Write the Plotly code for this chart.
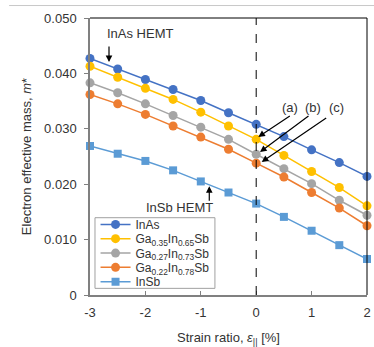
import plotly.graph_objects as go

strain = [-3, -2.5, -2, -1.5, -1, -0.5, 0, 0.5, 1, 1.5, 2]
inas = [0.0427, 0.0408, 0.0389, 0.0371, 0.0351, 0.0329, 0.0308, 0.0286, 0.0262, 0.0239, 0.0214]
ga035 = [0.0413, 0.0393, 0.0373, 0.0353, 0.0330, 0.0305, 0.0281, 0.0252, 0.0223, 0.0194, 0.0161]
ga027 = [0.0383, 0.0365, 0.0345, 0.0324, 0.0303, 0.0281, 0.0254, 0.0228, 0.0201, 0.0171, 0.0144]
ga022 = [0.0362, 0.0345, 0.0326, 0.0305, 0.0285, 0.0263, 0.0238, 0.0213, 0.0185, 0.0157, 0.0125]
insb = [0.0269, 0.0255, 0.0242, 0.0225, 0.0205, 0.0185, 0.0165, 0.0141, 0.0116, 0.0090, 0.0065]

names = ["InAs", "Ga<sub>0.35</sub>In<sub>0.65</sub>Sb", "Ga<sub>0.27</sub>In<sub>0.73</sub>Sb",
         "Ga<sub>0.22</sub>In<sub>0.78</sub>Sb", "InSb"]
colors = ["#4472C4", "#FFC000", "#A5A5A5", "#ED7D31", "#5B9BD5"]
symbols = ["circle", "circle", "circle", "circle", "square"]
series = [inas, ga035, ga027, ga022, insb]

x_ticks = [-3, -2, -1, 0, 1, 2]
x_ticktext = ["-3", "-2", "-1", "0", "1", "2"]
y_ticks = [0, 0.01, 0.02, 0.03, 0.04, 0.05]
y_ticktext = ["0", "0.010", "0.020", "0.030", "0.040", "0.050"]

FONT = "Liberation Sans, Arial, sans-serif"
TXT = "#333333"
FS = 13

fig = go.Figure()
legend_ids = ["legend", "legend2", "legend3", "legend4", "legend5"]
for nm, vals, col, sym, lg in zip(names, series, colors, symbols, legend_ids):
    fig.add_trace(go.Scatter(
        x=strain, y=vals, name=nm, mode="lines+markers",
        line=dict(color=col, width=1.5),
        marker=dict(color=col, size=9 if sym == "circle" else 8, symbol=sym),
        cliponaxis=False, legend=lg))

# legend item centres (paper y)
leg_y = [0.2548, 0.2033, 0.1514, 0.0998, 0.0479]
leg_common = dict(x=0.02, xanchor="left", yanchor="middle", bgcolor="rgba(0,0,0,0)",
                  borderwidth=0, font=dict(family=FONT, size=12, color=TXT),
                  itemwidth=30, tracegroupgap=0)
layout_legends = {}
for lg, yy in zip(legend_ids, leg_y):
    layout_legends[lg] = dict(y=yy, **leg_common)

fig.update_layout(
    width=374, height=347,
    margin=dict(l=90, r=7, t=17.5, b=52),
    paper_bgcolor="white", plot_bgcolor="white",
    showlegend=True,
    font=dict(family=FONT, size=FS, color=TXT),
    **layout_legends,
)

fig.update_xaxes(
    range=[-3, 2], tickvals=x_ticks, ticktext=x_ticktext, automargin=False,
    showgrid=False, zeroline=False, showline=True, linecolor="#808080", linewidth=1.5,
    ticks="inside", ticklen=4, tickcolor="#808080", ticklabelstandoff=5,
    tickfont=dict(family=FONT, size=FS, color=TXT),
    title=dict(text="Strain ratio, <i>ε</i><sub>||</sub> [%]", standoff=18,
               font=dict(family=FONT, size=FS, color=TXT)),
)
fig.update_yaxes(
    range=[0, 0.05], tickvals=y_ticks, ticktext=y_ticktext, automargin=False,
    showgrid=False, zeroline=False, showline=True, linecolor="#808080", linewidth=1.5,
    ticks="outside", ticklen=4, tickcolor="#808080", ticklabelstandoff=5,
    tickfont=dict(family=FONT, size=FS, color=TXT),
    title=dict(text="Electron effective mass, <i>m</i>*", standoff=10,
               font=dict(family=FONT, size=FS, color=TXT)),
)

# plot border top/right
fig.add_shape(type="line", xref="paper", yref="paper", x0=0, x1=1, y0=1, y1=1,
              line=dict(color="black", width=1))
fig.add_shape(type="line", xref="paper", yref="paper", x0=1, x1=1, y0=0, y1=1,
              line=dict(color="black", width=1))
# faint top rule of the figure
fig.add_shape(type="line", xref="paper", yref="paper", x0=-0.292, x1=1.03, y0=1.045, y1=1.045,
              line=dict(color="#C8C8C8", width=1))
# dashed line at zero strain
fig.add_shape(type="line", xref="x", yref="paper", x0=0, x1=0, y0=0, y1=1,
              line=dict(color="black", width=1, dash="dash"))
# legend box
fig.add_shape(type="rect", xref="paper", yref="paper", x0=0.018, x1=0.451, y0=0.024, y1=0.279,
              line=dict(color="#A0A0A0", width=1), fillcolor="white", layer="below")

ann_font = dict(family=FONT, size=FS, color=TXT)
fig.add_annotation(x=-2.097, y=0.0472, text="InAs HEMT", showarrow=False, font=ann_font,
                   bgcolor="white")
fig.add_annotation(x=-2.657, y=0.04204, ax=0, ay=-17, text="", showarrow=True,
                   arrowhead=2, arrowsize=1.1, arrowwidth=1.2, arrowcolor="black")
fig.add_annotation(x=-1.384, y=0.01573, text="InSb HEMT", showarrow=False, font=ann_font)
fig.add_annotation(x=-0.847, y=0.01964, ax=0, ay=16, text="", showarrow=True,
                   arrowhead=2, arrowsize=1.1, arrowwidth=1.2, arrowcolor="black")
for lbl, xx in zip(["(a)", "(b)", "(c)"], [0.610, 1.031, 1.453]):
    fig.add_annotation(x=xx, y=0.03393, text=lbl, showarrow=False, font=ann_font)
for hx, hy, ax, ay in [(0.038, 0.02852, 33, -22), (0.0686, 0.02582, 50, -37), (0.0993, 0.02402, 66, -45)]:
    fig.add_annotation(x=hx, y=hy, ax=ax, ay=ay, text="", showarrow=True,
                       arrowhead=2, arrowsize=1.1, arrowwidth=1.2, arrowcolor="black")

fig.write_html("out.html")
